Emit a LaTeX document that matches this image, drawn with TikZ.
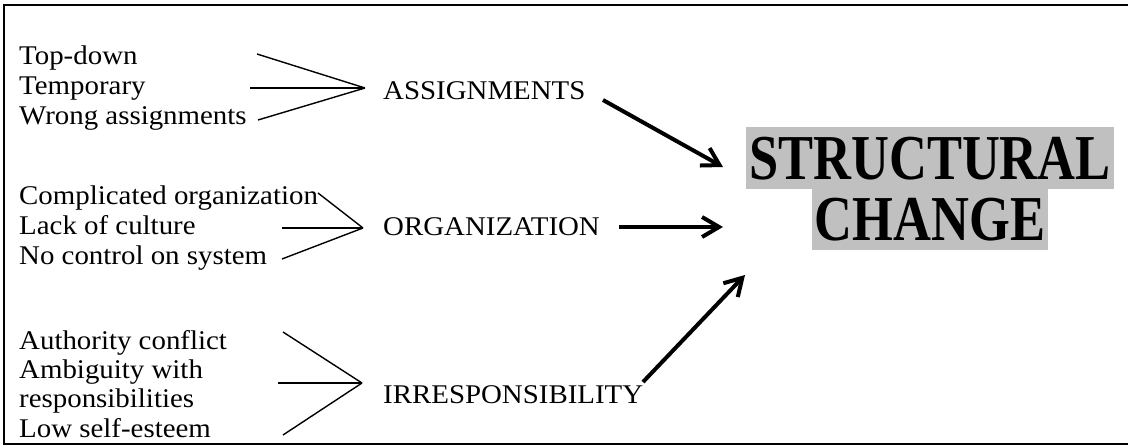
\documentclass[tikz,border=0pt]{standalone}
\usepackage{fontspec}
\setmainfont{Liberation Serif}[FakeStretch=1.07]
\newfontfamily\bigfont{Liberation Serif Bold}[FakeStretch=0.82]
\usetikzlibrary{arrows.meta}
\definecolor{silver}{RGB}{192,192,192}
\begin{document}
\begin{tikzpicture}[x=1pt,y=-1pt,
  item/.style={anchor=base west, inner sep=0pt, font=\fontsize{27}{30}\selectfont},
  thinline/.style={line width=1.4pt},
  bigarrow/.style={line width=4pt, -{Straight Barb[length=17pt,width=20pt]}},
  bigtext/.style={fill=silver, anchor=base, inner xsep=3pt, inner ysep=0pt,
    text depth=9pt, font=\bigfont\fontsize{64}{62}\selectfont},
  frame/.style={line width=2pt}]
\useasboundingbox (0,0) rectangle (1128,446);
% frame
\coordinate (f1) at (1128,5);
\coordinate (f2) at (4,5);
\coordinate (f3) at (4,444);
\coordinate (f4) at (1128,444);
\draw[frame] (f1) -- (f2) -- (f3) -- (f4);
% group 1
\node[item] (td) at (19,65) {Top-down};
\node[item] (tp) at (19,95) {Temporary};
\node[item] (wa) at (19,125) {Wrong assignments};
\node[item] (asg) at (383,100) {ASSIGNMENTS};
\coordinate (v1) at (365,88);
\coordinate (s11) at (257,54);
\coordinate (s12) at (250,88);
\coordinate (s13) at (258,120);
\draw[thinline] (s11) -- (v1);
\draw[thinline] (s12) -- (v1);
\draw[thinline] (s13) -- (v1);
% group 2
\node[item] (co) at (19,205) {Complicated organization};
\node[item] (lc) at (19,235) {Lack of culture};
\node[item] (nc) at (19,265) {No control on system};
\node[item] (org) at (383,236) {ORGANIZATION};
\coordinate (v2) at (363,228);
\coordinate (s21) at (318,193);
\coordinate (s22) at (282,228);
\coordinate (s23) at (282,259);
\draw[thinline] (s21) -- (v2);
\draw[thinline] (s22) -- (v2);
\draw[thinline] (s23) -- (v2);
% group 3
\node[item] (ac) at (19,350) {Authority conflict};
\node[item] (aw) at (19,379) {Ambiguity with};
\node[item] (rs) at (19,408) {responsibilities};
\node[item] (ls) at (19,437) {Low self-esteem};
\node[item] (irr) at (383,403) {IRRESPONSIBILITY};
\coordinate (v3) at (362,383);
\coordinate (s31) at (283,332);
\coordinate (s32) at (278,383);
\coordinate (s33) at (283,435);
\draw[thinline] (s31) -- (v3);
\draw[thinline] (s32) -- (v3);
\draw[thinline] (s33) -- (v3);
% result
\node[bigtext, text height=53pt] (sc1) at (930,180) {STRUCTURAL};
\node[bigtext, text height=52pt] (sc2) at (930,241) {CHANGE};
% arrows
\coordinate (a1) at (603,100);
\coordinate (t1) at (723,167);
\coordinate (a2) at (619,227);
\coordinate (t2) at (723,227);
\coordinate (a3) at (643,382);
\coordinate (t3) at (745,275);
\draw[bigarrow] (a1) -- (t1);
\draw[bigarrow] (a2) -- (t2);
\draw[bigarrow] (a3) -- (t3);
\end{tikzpicture}
\end{document}
